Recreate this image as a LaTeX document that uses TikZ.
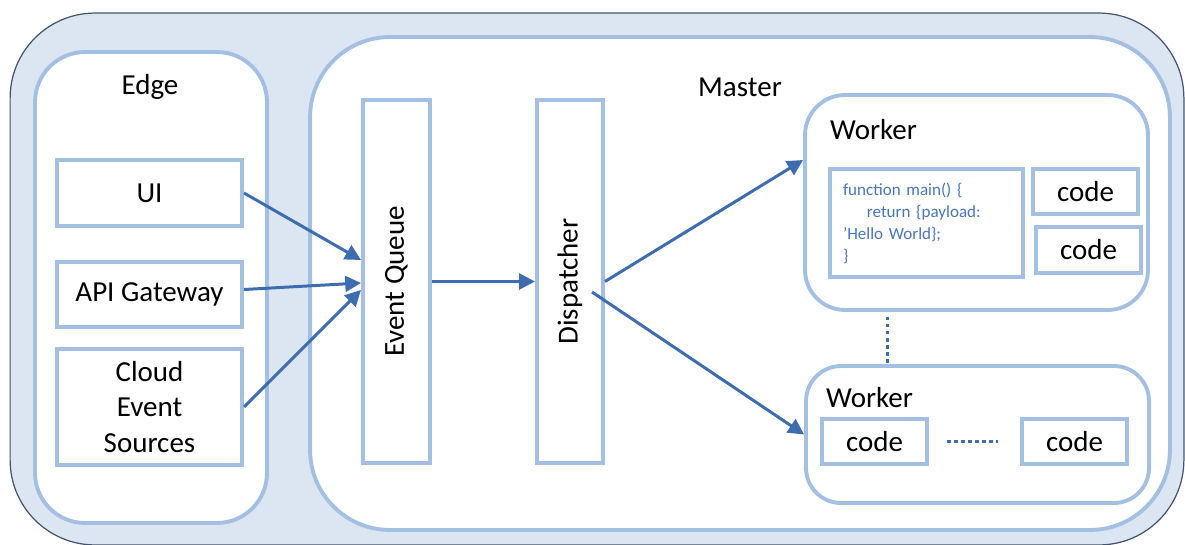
\documentclass[tikz,border=0pt]{standalone}
\usepackage{fontspec}
\setmainfont{Carlito}
\usetikzlibrary{arrows.meta, positioning}
\definecolor{boxline}{HTML}{A3C0E2}
\definecolor{panelfill}{HTML}{DCE6F2}
\definecolor{outline}{HTML}{44546A}
\definecolor{flow}{HTML}{3D6DAE}
\definecolor{codetext}{HTML}{4A76B8}

\begin{document}
\begin{tikzpicture}[x=0.02cm, y=-0.02cm,
    panel/.style={draw=boxline, line width=2.2pt, fill=white, inner sep=0pt},
    box/.style={draw=boxline, line width=2.3pt, fill=white, inner sep=0pt, align=center, font=\fontsize{16.5}{20}\selectfont},
    title/.style={font=\fontsize{16.5}{20}\selectfont},
    flowarrow/.style={draw=flow, line width=1.7pt, -{Triangle[length=9pt, width=9pt]}},
    dots/.style={draw=flow, line width=1.7pt, dash pattern=on 2pt off 2pt}]
            \useasboundingbox (0,0) rectangle (1185,544);
            \node[draw=outline, line width=0.7pt, fill=panelfill, rounded corners=1.7cm, minimum width=23.48cm, minimum height=10.64cm] (cloud) at (597,279) {};

            \node[panel, rounded corners=1cm, minimum width=4.64cm, minimum height=9.42cm] (edge) at (151,287.5) {};
            \node[title] (edgelabel) at (150,87) {Edge};
            \node[box, minimum width=3.7cm, minimum height=1.32cm] (ui) at (149.5,193) {UI};
            \node[box, minimum width=3.7cm, minimum height=1.3cm] (api) at (149.5,294.5) {API Gateway};
            \node[box, minimum width=3.7cm, minimum height=2.32cm] (ces) at (149.5,407) {Cloud\\Event\\Sources};

            \node[panel, rounded corners=1.6cm, minimum width=17.2cm, minimum height=9.86cm] (master) at (740,283.5) {};
            \node[title] (masterlabel) at (740,87) {Master};
            \node[box, minimum width=1.34cm, minimum height=7.26cm] (eq) at (396.5,281.5) {};
            \node[title, rotate=90] at (eq) {Event Queue};
            \node[box, minimum width=1.32cm, minimum height=7.26cm] (disp) at (570,281.5) {};
            \node[title, rotate=90] at (disp) {Dispatcher};

            \node[panel, rounded corners=0.8cm, minimum width=6.86cm, minimum height=4.3cm] (w1) at (976.5,202.5) {};
            \node[title, anchor=west] (w1label) at (824,130) {Worker};
            \node[box, text width=3.34cm, inner xsep=0.26cm, minimum height=2.16cm, align=left, text=codetext, font=\fontsize{9.7}{12.5}\selectfont] (main) at (926.5,223)
                {function main() \{\\\hspace*{1.4em}return \{payload:\\'Hello World\};\\\}};
            \node[box, minimum width=2.1cm, minimum height=0.9cm] (c1) at (1085.5,191.5) {code};
            \node[box, minimum width=2.1cm, minimum height=0.92cm] (c2) at (1088.5,250) {code};

            \node[panel, rounded corners=0.7cm, minimum width=6.86cm, minimum height=2.74cm] (w2) at (977.5,434.5) {};
            \node[title, anchor=west] (w2label) at (820,398) {Worker};
            \node[box, minimum width=2.1cm, minimum height=0.9cm] (c3) at (874.5,441.5) {code};
            \node[box, minimum width=2.1cm, minimum height=0.9cm] (c4) at (1074.5,441.5) {code};

            \draw[flowarrow] (ui.east) -- ([yshift=0.43cm]eq.west);
            \draw[flowarrow] ([yshift=0.1cm]api.east) -- ([yshift=-0.03cm]eq.west);
            \draw[flowarrow] (ces.east) -- ([yshift=-0.17cm]eq.west);
            \draw[flowarrow] (eq.east) -- (disp.west);
            \draw[flowarrow] (disp.east) -- ([yshift=0.85cm]w1.west);
            \draw[flowarrow] ([xshift=-0.26cm, yshift=-0.21cm]disp.east) -- (w2.west);

            \draw[dots] ([xshift=-1.79cm, yshift=-0.1cm]w1.south) -- ([xshift=-1.81cm]w2.north);
            \draw[dots, shorten <=0.36cm, shorten >=0.44cm] (c3.east) -- (c4.west);
    	\end{tikzpicture}
\end{document}
